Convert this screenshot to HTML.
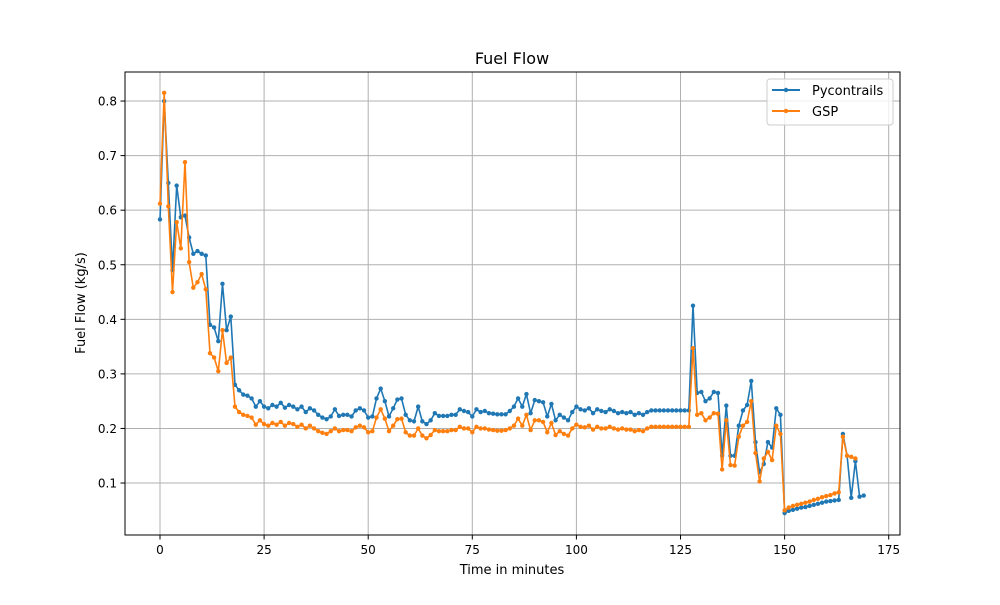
<!DOCTYPE html>
<html><head><meta charset="utf-8"><style>
body{margin:0;background:#fff;font-family:"Liberation Sans","DejaVu Sans",sans-serif}
svg text{font-family:"DejaVu Sans","Liberation Sans",sans-serif}
</style></head><body>
<svg id="chart" width="1000" height="600" xmlns="http://www.w3.org/2000/svg">
<rect width="1000" height="600" fill="#fff"/>
<g id="grid"></g>
<g id="series"></g>
<rect x="125" y="72" width="775" height="463" fill="none" stroke="#000" stroke-width="1"/>
<g id="ticks"></g>
<text x="512" y="64" font-size="16" text-anchor="middle">Fuel Flow</text>
<text x="512" y="574" font-size="13" text-anchor="middle">Time in minutes</text>
<text x="85" y="303" font-size="13" text-anchor="middle" transform="rotate(-90 85 303)">Fuel Flow (kg/s)</text>
<g>
<rect x="767" y="79" width="126" height="46" rx="3" fill="#fff" fill-opacity="0.8" stroke="#ccc"/>
<g>
<line x1="772" y1="90" x2="800" y2="90" stroke="#1f77b4" stroke-width="2"/><circle cx="786" cy="90" r="2.2" fill="#1f77b4"/>
<text x="812" y="95" font-size="13">Pycontrails</text></g>
<g>
<line x1="772" y1="111" x2="800" y2="111" stroke="#ff7f0e" stroke-width="2"/><circle cx="786" cy="111" r="2.2" fill="#ff7f0e"/>
<text x="812" y="116" font-size="13">GSP</text></g>
</g>
</svg>
<script>
const xTicks=[0,25,50,75,100,125,150,175];
const yTicks=[0.1,0.2,0.3,0.4,0.5,0.6,0.7,0.8];
const yTickLabels=["0.1","0.2","0.3","0.4","0.5","0.6","0.7","0.8"];
const pycontrails=[0.583,0.80,0.65,0.49,0.645,0.587,0.59,0.55,0.52,0.525,0.52,0.517,0.39,0.385,0.36,0.465,0.38,0.405,0.28,0.27,0.262,0.26,0.255,0.24,0.25,
0.24,0.237,0.243,0.24,0.247,0.238,0.243,0.24,0.235,0.24,0.23,0.237,0.233,0.225,0.22,0.217,0.222,0.235,0.223,0.225,0.225,0.222,0.233,0.237,0.233,0.22,
0.222,0.255,0.273,0.25,0.222,0.237,0.253,0.255,0.225,0.215,0.213,0.24,0.213,0.208,0.215,0.228,0.223,0.223,0.223,0.225,0.225,0.235,0.232,0.23,0.222,0.235,0.23,0.232,0.228,0.227,0.226,0.226,0.226,0.232,0.24,0.255,0.24,0.263,0.228,0.252,0.25,0.248,0.222,0.245,0.215,0.225,0.22,0.215,0.23,0.24,0.235,0.233,0.237,0.228,0.235,0.232,0.23,0.235,0.232,0.228,0.23,0.228,0.23,0.225,0.228,0.225,0.23,0.233,0.233,0.233,0.233,0.233,0.233,0.233,0.233,0.233,0.233,
0.425,0.265,0.267,0.25,0.255,0.267,0.265,0.15,0.242,0.15,0.15,0.205,0.233,0.243,0.287,0.175,0.12,0.135,0.175,0.165,0.237,0.225,
0.045,0.049,0.051,0.053,0.055,0.056,0.058,0.06,0.062,0.064,0.066,0.067,0.068,0.069,0.19,0.15,0.073,0.14,0.075,0.077];
const gsp=[0.612,0.815,0.607,0.45,0.578,0.53,0.688,0.505,0.458,0.468,0.483,0.455,0.338,0.33,0.305,0.38,0.32,0.33,0.24,0.23,0.225,0.223,0.22,0.207,0.215,
0.208,0.205,0.21,0.207,0.212,0.205,0.21,0.208,0.203,0.207,0.2,0.205,0.2,0.195,0.192,0.19,0.195,0.2,0.195,0.197,0.197,0.195,0.202,0.205,0.202,0.193,
0.195,0.22,0.235,0.218,0.195,0.205,0.217,0.218,0.193,0.187,0.187,0.2,0.187,0.182,0.188,0.197,0.195,0.195,0.195,0.197,0.197,0.203,0.2,0.2,0.193,0.203,0.2,0.2,0.198,0.197,0.196,0.196,0.197,0.2,0.205,0.218,0.205,0.225,0.197,0.215,0.215,0.212,0.193,0.21,0.188,0.195,0.19,0.187,0.2,0.207,0.203,0.202,0.205,0.198,0.203,0.2,0.2,0.203,0.2,0.198,0.2,0.198,0.198,0.195,0.197,0.195,0.2,0.203,0.203,0.203,0.203,0.203,0.203,0.203,0.203,0.203,0.203,
0.347,0.225,0.228,0.215,0.22,0.228,0.227,0.125,0.215,0.133,0.132,0.185,0.205,0.212,0.25,0.155,0.103,0.145,0.157,0.142,0.205,0.19,
0.05,0.055,0.058,0.06,0.062,0.064,0.066,0.069,0.071,0.074,0.076,0.078,0.081,0.083,0.185,0.15,0.148,0.145];
const NS="http://www.w3.org/2000/svg";
const X=v=>160+v*104.1/25;
const Y=v=>537.6-v*545.7;
const grid=document.getElementById('grid'),ticks=document.getElementById('ticks'),ser=document.getElementById('series');
function mk(tag,attrs,parent){const e=document.createElementNS(NS,tag);for(const k in attrs)e.setAttribute(k,attrs[k]);parent.appendChild(e);return e;}
xTicks.forEach(t=>{
 const g=mk('line',{x1:X(t),x2:X(t),y1:72,y2:535,stroke:'#b0b0b0','stroke-width':1},grid);
 
 
 mk('line',{x1:X(t),x2:X(t),y1:535,y2:539.5,stroke:'#000'},ticks);
 const tx=mk('text',{x:X(t),y:554,'font-size':12,'text-anchor':'middle'},ticks);tx.textContent=t;
 
 
});
yTicks.forEach((t,i)=>{
 const g=mk('line',{x1:125,x2:900,y1:Y(t),y2:Y(t),stroke:'#b0b0b0','stroke-width':1},grid);
 
 
 mk('line',{x1:120.5,x2:125,y1:Y(t),y2:Y(t),stroke:'#000'},ticks);
 const tx=mk('text',{x:117,y:Y(t)+4.5,'font-size':12,'text-anchor':'end'},ticks);tx.textContent=yTickLabels[i];
 
 
});
function draw(data,color,name){
 const g=mk('g',{},ser);
 
 
 const pts=data.map((v,i)=>X(i).toFixed(1)+','+Y(v).toFixed(1)).join(' ');
 const pl=mk('polyline',{points:pts,fill:'none',stroke:color,'stroke-width':1.6,'stroke-linejoin':'round'},g);
 
 
 data.forEach((v,i)=>{const c=mk('circle',{cx:X(i),cy:Y(v),r:2.2,fill:color},g);
  
  });
}
draw(pycontrails,'#1f77b4','pycontrails');
draw(gsp,'#ff7f0e','gsp');
</script>
</body></html>
